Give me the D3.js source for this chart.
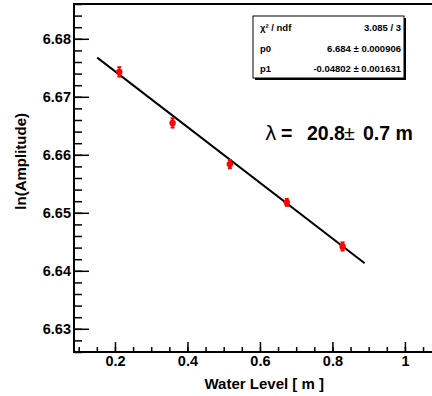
<!DOCTYPE html>
<html>
<head>
<meta charset="utf-8">
<script src="https://cdn.jsdelivr.net/npm/d3@7"></script>
<style>
  body { margin: 0; background: #fff; }
  svg { font-family: "Liberation Sans", Arial, Helvetica, sans-serif; font-weight: bold; }
</style>
</head>
<body>
<div id="chart"></div>
<script>
// measured points
const waterLevel = [0.212, 0.359, 0.517, 0.674, 0.828];
const lnAmplitude = [6.6743, 6.6655, 6.6584, 6.6518, 6.6442];
const lnAmplitudeErr = [0.0008, 0.0008, 0.0007, 0.0006, 0.0007];

// fit result
const fitP0 = 6.684;
const fitP1 = -0.04802;
const fitRange = [0.151, 0.889];

const statsRows = [
  ['χ² / ndf', '3.085 / 3'],
  ['p0', '6.684 ± 0.000906'],
  ['p1', '-0.04802 ± 0.001631']
];
const xMajorTicks = [0.2, 0.4, 0.6, 0.8, 1];
const yMajorTicks = [6.63, 6.64, 6.65, 6.66, 6.67, 6.68];

const width = 432;
const height = 396;
const margin = { top: 4, left: 74, bottom: 44 };

const svg = d3.select('#chart')
  .append('svg')
  .attr('width', width)
  .attr('height', height);

const xScale = d3.scaleLinear()
  .domain([0.087, 1.083])
  .range([margin.left, margin.left + 361]);

const yScale = d3.scaleLinear()
  .domain([6.626, 6.686])
  .range([height - margin.bottom, margin.top]);

const plotBottom = height - margin.bottom;

// frame
svg.append('rect')
  .attr('x', margin.left)
  .attr('y', margin.top)
  .attr('width', xScale.range()[1] - margin.left)
  .attr('height', plotBottom - margin.top)
  .attr('fill', 'none')
  .attr('stroke', '#000')
  .attr('stroke-width', 2);

// y axis minor ticks
const yMinor = d3.range(6.626, 6.6861, 0.002);
svg.append('g')
  .attr('transform', `translate(${margin.left},0)`)
  .call(d3.axisLeft(yScale).tickValues(yMinor).tickSize(-8).tickFormat(''))
  .call(g => g.select('.domain').remove())
  .selectAll('line').attr('stroke-width', 1.5);

// y axis major
const yAxisGroup = svg.append('g')
  .attr('transform', `translate(${margin.left},0)`)
  .call(d3.axisLeft(yScale).tickValues(yMajorTicks).tickSize(-15).tickPadding(3)
    .tickFormat(d3.format('.2f')));
yAxisGroup.select('.domain').remove();
yAxisGroup.selectAll('line').attr('stroke-width', 1.5);
yAxisGroup.selectAll('text')
  .attr('font-size', 14.5)
  .attr('font-weight', 'bold')
  .attr('font-family', '"Liberation Sans", Arial, sans-serif')
  .attr('fill', '#000');

// x axis minor ticks
const xMinor = d3.range(0.1, 1.081, 0.05);
svg.append('g')
  .attr('transform', `translate(0,${plotBottom})`)
  .call(d3.axisBottom(xScale).tickValues(xMinor).tickSize(-5).tickFormat(''))
  .call(g => g.select('.domain').remove())
  .selectAll('line').attr('stroke-width', 1.5);

// x axis major
const xAxisGroup = svg.append('g')
  .attr('transform', `translate(0,${plotBottom})`)
  .call(d3.axisBottom(xScale).tickValues(xMajorTicks).tickSize(-10).tickPadding(4)
    .tickFormat(d3.format('')));
xAxisGroup.select('.domain').remove();
xAxisGroup.selectAll('line').attr('stroke-width', 1.5);
xAxisGroup.selectAll('text')
  .attr('font-size', 14.5)
  .attr('font-weight', 'bold')
  .attr('font-family', '"Liberation Sans", Arial, sans-serif')
  .attr('fill', '#000');

// axis titles
svg.append('text')
  .attr('x', 324)
  .attr('y', 389)
  .attr('text-anchor', 'end')
  .attr('font-size', 15)
  .text('Water Level [ m ]');

svg.append('text')
  .attr('transform', 'rotate(-90)')
  .attr('x', -113)
  .attr('y', 26)
  .attr('text-anchor', 'end')
  .attr('font-size', 15)
  .text('ln(Amplitude)');

// fit line
const lineFunc = d3.line()
  .x(d => xScale(d))
  .y(d => yScale(fitP0 + fitP1 * d));
svg.append('path')
  .attr('d', lineFunc(fitRange))
  .attr('stroke', '#000')
  .attr('stroke-width', 2)
  .attr('fill', 'none');

// error bars + points
const pts = waterLevel.map((x, i) => ({ x: x, y: lnAmplitude[i], e: lnAmplitudeErr[i] }));
const errG = svg.append('g').attr('stroke', '#f00').attr('stroke-width', 2);
errG.selectAll('line.bar')
  .data(pts)
  .enter()
  .append('line')
  .attr('x1', d => xScale(d.x))
  .attr('x2', d => xScale(d.x))
  .attr('y1', d => yScale(d.y - d.e))
  .attr('y2', d => yScale(d.y + d.e));
['top', 'bot'].forEach(side => {
  errG.selectAll('line.' + side)
    .data(pts)
    .enter()
    .append('line')
    .attr('x1', d => xScale(d.x) - 2)
    .attr('x2', d => xScale(d.x) + 2)
    .attr('y1', d => yScale(side === 'top' ? d.y + d.e : d.y - d.e))
    .attr('y2', d => yScale(side === 'top' ? d.y + d.e : d.y - d.e));
});
svg.selectAll('circle.pt')
  .data(pts)
  .enter()
  .append('circle')
  .attr('class', 'pt')
  .attr('cx', d => xScale(d.x))
  .attr('cy', d => yScale(d.y))
  .attr('r', 3.2)
  .attr('fill', '#f00');

// stats box
const box = { x: 253, y: 16, w: 151, h: 62 };
svg.append('rect')
  .attr('x', box.x + 2).attr('y', box.y + 2)
  .attr('width', box.w).attr('height', box.h)
  .attr('fill', '#000');
svg.append('rect')
  .attr('x', box.x).attr('y', box.y)
  .attr('width', box.w).attr('height', box.h)
  .attr('fill', '#fff')
  .attr('stroke', '#000')
  .attr('stroke-width', 1);
const rowY = [31, 52, 72];
statsRows.forEach((r, i) => {
  svg.append('text')
    .attr('x', box.x + 7).attr('y', rowY[i])
    .attr('font-size', 9.5)
    .text(r[0]);
  svg.append('text')
    .attr('x', box.x + box.w - 3).attr('y', rowY[i])
    .attr('text-anchor', 'end')
    .attr('font-size', 9.5)
    .text(r[1]);
});

// wavelength label
const lam = svg.append('text')
  .attr('y', 140)
  .attr('font-size', 19.5)
  .style('white-space', 'pre');
lam.append('tspan').attr('x', 265).attr('font-weight', 'normal')
  .attr('font-family', '"DejaVu Sans", sans-serif').text('λ');
lam.append('tspan').attr('x', 281).text('=');
lam.append('tspan').attr('x', 307).text('20.8');
lam.append('tspan').attr('x', 344).attr('font-weight', 'normal').text('±');
lam.append('tspan').attr('x', 363).text('0.7 m');
</script>
</body>
</html>
